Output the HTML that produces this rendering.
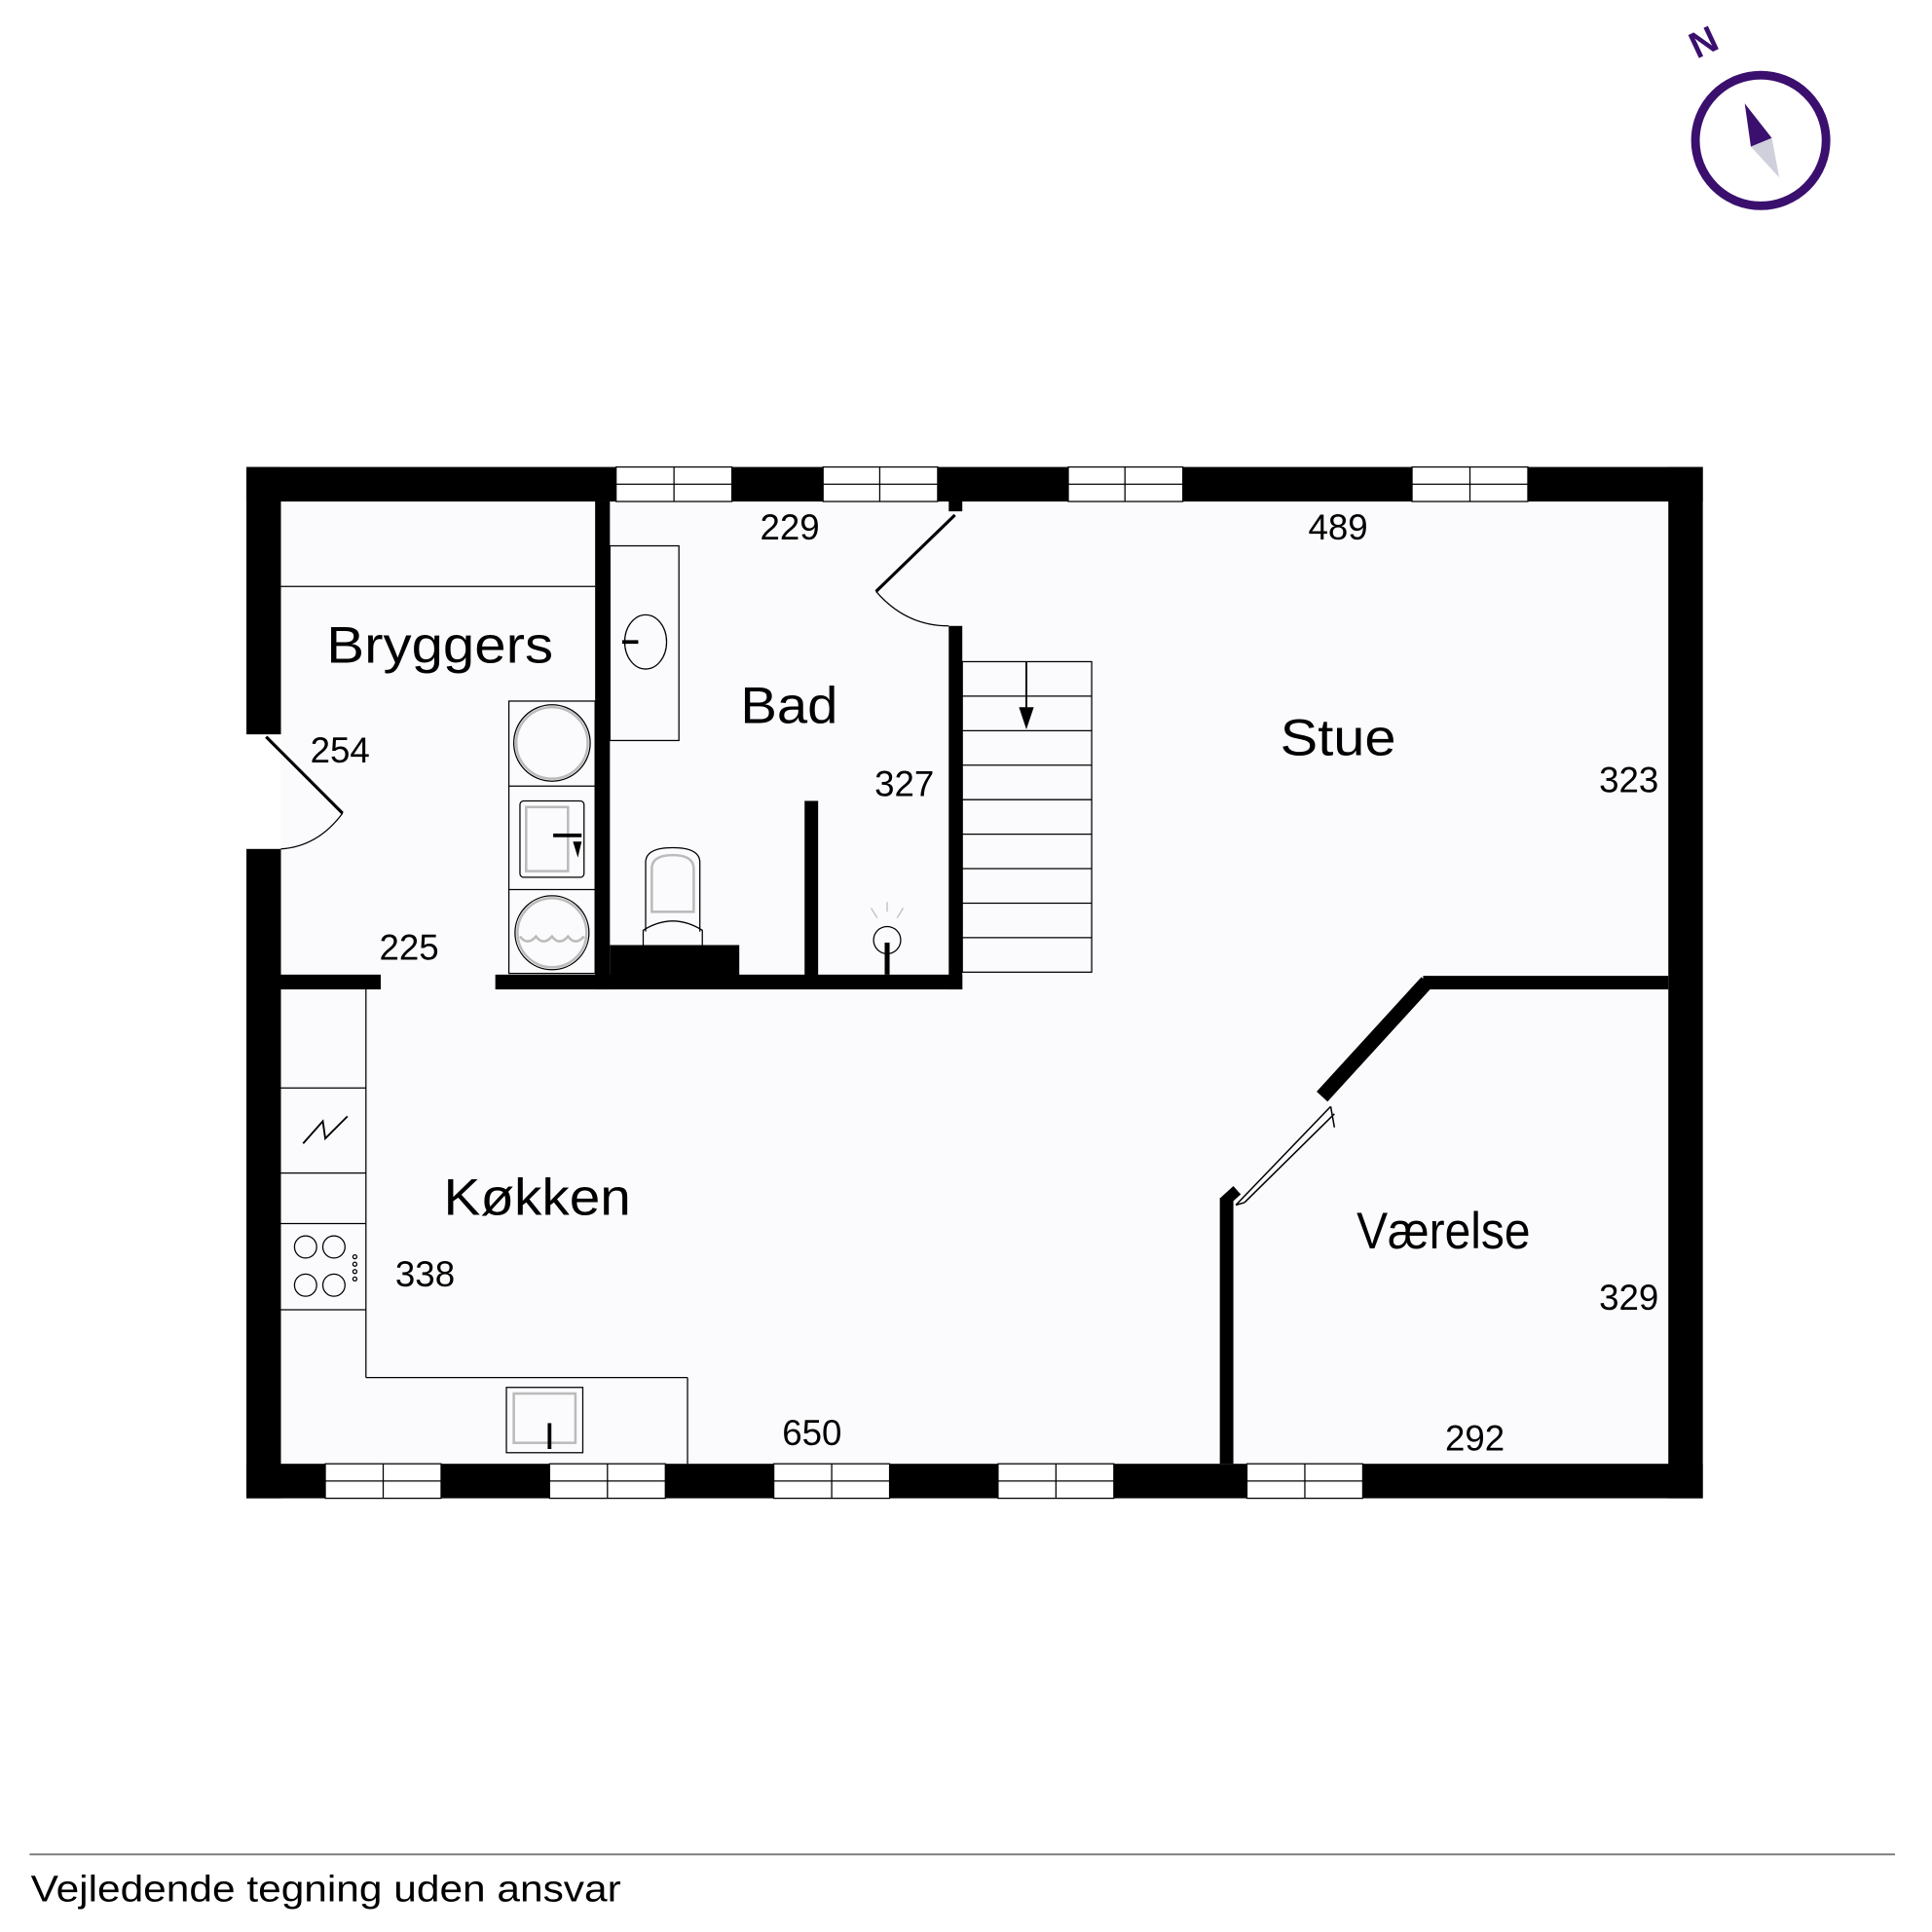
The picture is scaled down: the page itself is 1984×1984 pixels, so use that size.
<!DOCTYPE html>
<html><head><meta charset="utf-8"><style>
html,body{margin:0;padding:0;background:#fff;}
svg{display:block;}
text{font-family:"Liberation Sans",sans-serif;fill:#000;}
</style></head><body>
<svg width="1984" height="1984" viewBox="0 0 1568 1568" xmlns="http://www.w3.org/2000/svg">
<rect width="1568" height="1568" fill="#fff"/>
<rect x="228" y="407" width="1126" height="781" fill="#fbfbfd"/>
<g fill="#000">
<rect x="200" y="379" width="300" height="28"/>
<rect x="594" y="379" width="74" height="28"/>
<rect x="761" y="379" width="106" height="28"/>
<rect x="960" y="379" width="186" height="28"/>
<rect x="1240" y="379" width="142" height="28"/>
<rect x="200" y="1188" width="64" height="28"/>
<rect x="358" y="1188" width="88" height="28"/>
<rect x="540" y="1188" width="88" height="28"/>
<rect x="722" y="1188" width="88" height="28"/>
<rect x="904" y="1188" width="108" height="28"/>
<rect x="1106" y="1188" width="276" height="28"/>
<rect x="200" y="379" width="28" height="217"/>
<rect x="200" y="689" width="28" height="527"/>
<rect x="1354" y="379" width="28" height="837"/>
<rect x="483" y="407" width="12" height="396"/>
<rect x="228" y="791" width="81" height="12"/>
<rect x="402" y="791" width="379" height="12"/>
<rect x="495" y="767" width="105" height="28"/>
<rect x="653" y="650" width="11" height="145"/>
<rect x="770" y="508" width="11" height="295"/>
<rect x="770" y="407" width="11" height="8"/>
<rect x="1155" y="792" width="199" height="11"/>
<rect x="990" y="972" width="11" height="216"/>
</g>
<line x1="1158" y1="797" x2="1073" y2="890" stroke="#000" stroke-width="12"/>
<line x1="994" y1="975" x2="1004" y2="966" stroke="#000" stroke-width="9"/>
<g fill="#fff" stroke="#000" stroke-width="1">
<rect x="500" y="379" width="94" height="28"/><rect x="668" y="379" width="93" height="28"/>
<rect x="867" y="379" width="93" height="28"/><rect x="1146" y="379" width="94" height="28"/>
<rect x="264" y="1188" width="94" height="28"/><rect x="446" y="1188" width="94" height="28"/>
<rect x="628" y="1188" width="94" height="28"/><rect x="810" y="1188" width="94" height="28"/>
<rect x="1012" y="1188" width="94" height="28"/>
</g>
<g stroke="#000" stroke-width="1">
<line x1="500" y1="393" x2="594" y2="393"/><line x1="547" y1="379" x2="547" y2="407"/>
<line x1="668" y1="393" x2="761" y2="393"/><line x1="714" y1="379" x2="714" y2="407"/>
<line x1="867" y1="393" x2="960" y2="393"/><line x1="913" y1="379" x2="913" y2="407"/>
<line x1="1146" y1="393" x2="1240" y2="393"/><line x1="1193" y1="379" x2="1193" y2="407"/>
<line x1="264" y1="1202" x2="358" y2="1202"/><line x1="311" y1="1188" x2="311" y2="1216"/>
<line x1="446" y1="1202" x2="540" y2="1202"/><line x1="493" y1="1188" x2="493" y2="1216"/>
<line x1="628" y1="1202" x2="722" y2="1202"/><line x1="675" y1="1188" x2="675" y2="1216"/>
<line x1="810" y1="1202" x2="904" y2="1202"/><line x1="857" y1="1188" x2="857" y2="1216"/>
<line x1="1012" y1="1202" x2="1106" y2="1202"/><line x1="1059" y1="1188" x2="1059" y2="1216"/>
</g>
<g stroke="#000" stroke-width="1.2" fill="none">
<line x1="1003" y1="978" x2="1080" y2="898"/>
<line x1="1010" y1="976" x2="1083" y2="904"/>
<line x1="1003" y1="978" x2="1010" y2="976"/>
<line x1="1080" y1="898" x2="1083" y2="915"/>
</g>
<g stroke="#000" fill="none">
<line x1="216" y1="598" x2="278" y2="660" stroke-width="2.5"/>
<path d="M278 660 Q258 687 228 689" stroke-width="1"/>
<line x1="775" y1="418" x2="711" y2="480" stroke-width="2.5"/>
<path d="M711 480 Q735 508 770 508" stroke-width="1"/>
</g>
<g stroke="#000" stroke-width="1" fill="none">
<line x1="228" y1="476" x2="483" y2="476"/>
<rect x="413" y="569" width="70" height="221"/>
<line x1="413" y1="638" x2="483" y2="638"/><line x1="413" y1="722" x2="483" y2="722"/>
<circle cx="448" cy="603" r="29" stroke="#bbb" stroke-width="2"/><circle cx="448" cy="603" r="31"/>
<rect x="422" y="650" width="52" height="62" rx="3"/>
<rect x="427" y="655" width="34" height="52" stroke="#bbb" stroke-width="2"/>
<line x1="449" y1="678" x2="472" y2="678" stroke-width="3"/>
<circle cx="448" cy="757" r="30"/><circle cx="448" cy="757" r="28" stroke="#bbb" stroke-width="2"/>
<path d="M422 760 q6 8 13 0 q6 8 13 0 q6 8 13 0 q6 8 13 0" stroke="#bbb" stroke-width="2"/>
<rect x="495" y="443" width="56" height="158"/>
<ellipse cx="524" cy="521" rx="17" ry="22"/>
<line x1="505" y1="521" x2="518" y2="521" stroke-width="3"/>
<path d="M524 756 L524 700 Q524 688 546 688 Q568 688 568 700 L568 756"/>
<path d="M529 740 L529 705 Q529 694 546 694 Q563 694 563 705 L563 740 Z" stroke="#bbb" stroke-width="2"/>
<path d="M522 767 L522 755 Q546 740 570 755 L570 767"/>
<circle cx="720" cy="763" r="11"/>
<line x1="720" y1="765" x2="720" y2="791" stroke-width="4"/>
<line x1="720" y1="740" x2="720" y2="732" stroke="#bbb"/>
<line x1="712" y1="745" x2="707" y2="737" stroke="#bbb"/>
<line x1="728" y1="745" x2="733" y2="737" stroke="#bbb"/>
<rect x="781" y="537" width="105" height="252"/>
<line x1="781" y1="565" x2="886" y2="565"/><line x1="781" y1="593" x2="886" y2="593"/>
<line x1="781" y1="621" x2="886" y2="621"/><line x1="781" y1="649" x2="886" y2="649"/>
<line x1="781" y1="677" x2="886" y2="677"/><line x1="781" y1="705" x2="886" y2="705"/>
<line x1="781" y1="733" x2="886" y2="733"/><line x1="781" y1="761" x2="886" y2="761"/>
<line x1="833" y1="537" x2="833" y2="588" stroke-width="1.5"/>
<line x1="297" y1="803" x2="297" y2="1118"/>
<line x1="297" y1="1118" x2="558" y2="1118"/>
<line x1="558" y1="1118" x2="558" y2="1188"/>
<line x1="228" y1="883" x2="297" y2="883"/><line x1="228" y1="952" x2="297" y2="952"/>
<line x1="228" y1="993" x2="297" y2="993"/><line x1="228" y1="1063" x2="297" y2="1063"/>
<path d="M246 928 L262 910 L264 924 L282 906" stroke-width="1.5"/>
<circle cx="248" cy="1012" r="9"/><circle cx="271" cy="1012" r="9"/>
<circle cx="248" cy="1043" r="9"/><circle cx="271" cy="1043" r="9"/>
<rect x="411" y="1126" width="62" height="53"/>
<rect x="417" y="1131" width="50" height="40" stroke="#bbb" stroke-width="2"/>
<line x1="446" y1="1155" x2="446" y2="1176" stroke-width="3"/>
</g>
<g fill="none" stroke="#000" stroke-width="1"><circle cx="288" cy="1020" r="1.6"/><circle cx="288" cy="1026" r="1.6"/><circle cx="288" cy="1032" r="1.6"/><circle cx="288" cy="1038" r="1.6"/></g>
<path d="M827 574 L833 592 L839 574 Z" fill="#000"/>
<path d="M465 683 L472 683 L469 696 Z" fill="#000"/>
<g font-size="42">
<text x="265" y="538" textLength="184" lengthAdjust="spacingAndGlyphs">Bryggers</text>
<text x="601" y="587" textLength="79" lengthAdjust="spacingAndGlyphs">Bad</text>
<text x="1039" y="613" textLength="94" lengthAdjust="spacingAndGlyphs">Stue</text>
<text x="360" y="986" textLength="152" lengthAdjust="spacingAndGlyphs">Køkken</text>
<text x="1101" y="1013" textLength="141" lengthAdjust="spacingAndGlyphs">Værelse</text>
</g>
<g font-size="29">
<text x="641" y="438" text-anchor="middle">229</text>
<text x="1086" y="438" text-anchor="middle">489</text>
<text x="276" y="619" text-anchor="middle">254</text>
<text x="734" y="646" text-anchor="middle">327</text>
<text x="1322" y="643" text-anchor="middle">323</text>
<text x="332" y="779" text-anchor="middle">225</text>
<text x="345" y="1044" text-anchor="middle">338</text>
<text x="1322" y="1063" text-anchor="middle">329</text>
<text x="659" y="1173" text-anchor="middle">650</text>
<text x="1197" y="1177" text-anchor="middle">292</text>
</g>
<line x1="24" y1="1505" x2="1538" y2="1505" stroke="#777" stroke-width="1.5"/>
<text x="25" y="1543" font-size="30" textLength="479" lengthAdjust="spacingAndGlyphs">Vejledende tegning uden ansvar</text>
<circle cx="1429" cy="114" r="53" fill="none" stroke="#3a0f6e" stroke-width="7"/>
<path d="M1416 84 L1438 112 L1421 119 Z" fill="#3a0f6e"/>
<path d="M1421 119 L1438 112 L1444 144 Z" fill="#cfd0dc"/>
<text x="0" y="0" font-size="30" font-weight="bold" style="fill:#3a0f6e" transform="translate(1377 48) rotate(-25)">N</text>
</svg>
</body></html>
